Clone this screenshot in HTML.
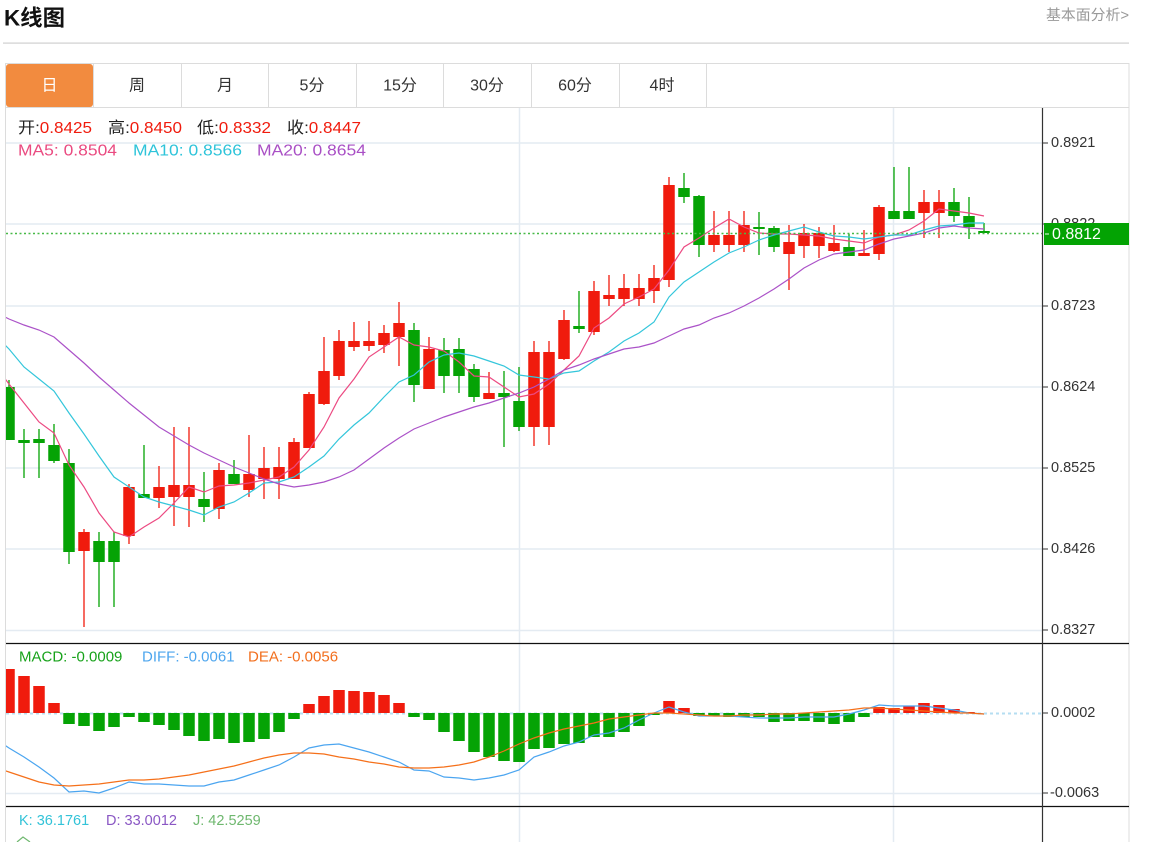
<!DOCTYPE html>
<html><head><meta charset="utf-8"><style>
html,body{margin:0;padding:0;background:#fff;width:1160px;height:842px;overflow:hidden}
svg{display:block}
text{font-family:"Liberation Sans","Noto Sans CJK SC",sans-serif}
</style></head><body>
<svg width="1160" height="842" viewBox="0 0 1160 842" xmlns="http://www.w3.org/2000/svg">
<defs>
<clipPath id="cm"><rect x="6" y="108" width="1036" height="535"/></clipPath>
<clipPath id="cd"><rect x="6" y="644" width="1036" height="162"/></clipPath>
</defs>
<!-- header -->
<text x="4" y="18" dominant-baseline="central" font-size="22" font-weight="bold" fill="#111" textLength="61" lengthAdjust="spacingAndGlyphs">K线图</text>
<text x="1046" y="16" dominant-baseline="central" font-size="14.5" fill="#999" textLength="83" lengthAdjust="spacingAndGlyphs">基本面分析&gt;</text>
<rect x="3" y="42.5" width="1126" height="1.2" fill="#cfcfcf"/>
<!-- outer box -->
<rect x="5.5" y="63.5" width="1123.5" height="800" fill="none" stroke="#dcdcdc" stroke-width="1"/>
<!-- tabs -->
<rect x="6" y="64" width="87" height="43" rx="3" fill="#f28b3f"/>
<g stroke="#dcdcdc" stroke-width="1">
<line x1="93.5" y1="64" x2="93.5" y2="107"/><line x1="181.5" y1="64" x2="181.5" y2="107"/>
<line x1="268.5" y1="64" x2="268.5" y2="107"/><line x1="356.5" y1="64" x2="356.5" y2="107"/>
<line x1="443.5" y1="64" x2="443.5" y2="107"/><line x1="531.5" y1="64" x2="531.5" y2="107"/>
<line x1="619.5" y1="64" x2="619.5" y2="107"/><line x1="706.5" y1="64" x2="706.5" y2="107"/>
<line x1="6" y1="107.5" x2="1129" y2="107.5"/>
</g>
<g font-size="16" dominant-baseline="central" text-anchor="middle" fill="#333">
<text x="49.5" y="86" fill="#fff">日</text>
<text x="137" y="86">周</text>
<text x="225" y="86">月</text>
<text x="312" y="86">5分</text>
<text x="400" y="86">15分</text>
<text x="487" y="86">30分</text>
<text x="575" y="86">60分</text>
<text x="662" y="86">4时</text>
</g>
<!-- grid -->
<g stroke="#e4ebf2" stroke-width="1.5">
<line x1="6" y1="143" x2="1042" y2="143"/><line x1="6" y1="224" x2="1042" y2="224"/>
<line x1="6" y1="306" x2="1042" y2="306"/><line x1="6" y1="387" x2="1042" y2="387"/>
<line x1="6" y1="468" x2="1042" y2="468"/><line x1="6" y1="549" x2="1042" y2="549"/>
<line x1="6" y1="630.5" x2="1042" y2="630.5"/><line x1="6" y1="793.5" x2="1042" y2="793.5"/>
<line x1="519.5" y1="108" x2="519.5" y2="842"/><line x1="893.5" y1="108" x2="893.5" y2="842"/>
</g>
<!-- info rows -->
<g font-size="16" dominant-baseline="central">
<text x="18" y="128" textLength="74" lengthAdjust="spacingAndGlyphs"><tspan fill="#222">开:</tspan><tspan fill="#f01b0d">0.8425</tspan></text>
<text x="108" y="128" textLength="74" lengthAdjust="spacingAndGlyphs"><tspan fill="#222">高:</tspan><tspan fill="#f01b0d">0.8450</tspan></text>
<text x="197" y="128" textLength="74" lengthAdjust="spacingAndGlyphs"><tspan fill="#222">低:</tspan><tspan fill="#f01b0d">0.8332</tspan></text>
<text x="287" y="128" textLength="74" lengthAdjust="spacingAndGlyphs"><tspan fill="#222">收:</tspan><tspan fill="#f01b0d">0.8447</tspan></text>
<text x="18" y="151" fill="#ea4a80" textLength="99" lengthAdjust="spacingAndGlyphs">MA5: 0.8504</text>
<text x="133" y="151" fill="#2ec4da" textLength="109" lengthAdjust="spacingAndGlyphs">MA10: 0.8566</text>
<text x="257" y="151" fill="#a94fc5" textLength="109" lengthAdjust="spacingAndGlyphs">MA20: 0.8654</text>
</g>
<g font-size="15" dominant-baseline="central">
<text x="19" y="657" fill="#17a21a">MACD: -0.0009</text>
<text x="142" y="657" fill="#4ea6ee">DIFF: -0.0061</text>
<text x="248" y="657" fill="#f26f1e">DEA: -0.0056</text>
<text x="19" y="821" fill="#33c3d8" font-size="14.5">K: 36.1761</text>
<text x="106" y="821" fill="#8a57c4" font-size="14.5">D: 33.0012</text>
<text x="193" y="821" fill="#6fb86f" font-size="14.5">J: 42.5259</text>
</g>
<!-- candles -->
<g clip-path="url(#cm)">
<path fill="none" stroke="#05a305" stroke-width="1.3" d="M9 380V440M24 429V478M39 429V478M54 424V463M69 449V564M99 532V607M114 532V607M144 445V498M204 472V522M234 460V484M414 323V402M444 338V393M459 338V393M474 364V402M504 371V447M519 367V431M579 291V333M684 173V203M699 195V257M759 212V255M774 226V252M849 234V256M894 167V219M909 167V219M954 188V222M969 197V239M984 223V233"/>
<path fill="#05a305" d="M3.25 387h11.5v53h-11.5zM18.25 440h11.5v3h-11.5zM33.25 439h11.5v4h-11.5zM48.25 445h11.5v16h-11.5zM63.25 463h11.5v89h-11.5zM93.25 541h11.5v21h-11.5zM108.25 541h11.5v21h-11.5zM138.25 494h11.5v4h-11.5zM198.25 499h11.5v8h-11.5zM228.25 474h11.5v10h-11.5zM408.25 330h11.5v55h-11.5zM438.25 350h11.5v26h-11.5zM453.25 349h11.5v27h-11.5zM468.25 369h11.5v28h-11.5zM498.25 393h11.5v4h-11.5zM513.25 401h11.5v26h-11.5zM573.25 326h11.5v3h-11.5zM678.25 188h11.5v9h-11.5zM693.25 196h11.5v49h-11.5zM753.25 227h11.5v2h-11.5zM768.25 228h11.5v19h-11.5zM843.25 247h11.5v9h-11.5zM888.25 211h11.5v8h-11.5zM903.25 211h11.5v8h-11.5zM948.25 202h11.5v14h-11.5zM963.25 216h11.5v11h-11.5zM978.25 231h11.5v2h-11.5z"/>
<path fill="none" stroke="#f01b0d" stroke-width="1.3" d="M84 529V627M129 484V544M159 466V508M174 427V526M189 427V527M219 463V519M249 435V497M264 447V499M279 447V499M294 438V479M309 392V448M324 337V405M339 330V380M354 322V351M369 321V351M384 325V353M399 302V366M429 337V389M489 372V399M534 341V446M549 341V445M564 310V360M594 281V335M609 275V306M624 274V306M639 274V306M654 265V303M669 177V287M714 211V252M729 211V252M744 211V252M789 225V290M804 224V258M819 227V258M834 225V252M864 230V256M879 205V260M924 190V238M939 190V238"/>
<path fill="#f01b0d" d="M78.25 532h11.5v19h-11.5zM123.25 487h11.5v49h-11.5zM153.25 487h11.5v11h-11.5zM168.25 485h11.5v12h-11.5zM183.25 485h11.5v12h-11.5zM213.25 470h11.5v39h-11.5zM243.25 474h11.5v16h-11.5zM258.25 468h11.5v11h-11.5zM273.25 467h11.5v12h-11.5zM288.25 442h11.5v37h-11.5zM303.25 394h11.5v54h-11.5zM318.25 371h11.5v33h-11.5zM333.25 341h11.5v35h-11.5zM348.25 341h11.5v6h-11.5zM363.25 341h11.5v5h-11.5zM378.25 333h11.5v12h-11.5zM393.25 323h11.5v14h-11.5zM423.25 349h11.5v40h-11.5zM483.25 393h11.5v6h-11.5zM528.25 352h11.5v75h-11.5zM543.25 352h11.5v75h-11.5zM558.25 320h11.5v39h-11.5zM588.25 291h11.5v41h-11.5zM603.25 295h11.5v4h-11.5zM618.25 288h11.5v11h-11.5zM633.25 288h11.5v11h-11.5zM648.25 278h11.5v13h-11.5zM663.25 185h11.5v95h-11.5zM708.25 235h11.5v10h-11.5zM723.25 235h11.5v10h-11.5zM738.25 225h11.5v20h-11.5zM783.25 242h11.5v12h-11.5zM798.25 233h11.5v13h-11.5zM813.25 233h11.5v13h-11.5zM828.25 243h11.5v8h-11.5zM858.25 253h11.5v3h-11.5zM873.25 207h11.5v47h-11.5zM918.25 202h11.5v11h-11.5zM933.25 202h11.5v11h-11.5z"/>
<polyline fill="none" stroke="#ec4a82" stroke-width="1.2" points="3,376 9,384 24,403 39,422 54,433 69,465 84,487 99,513 114,532 129,537 144,527 159,518 174,503 189,487 204,492 219,486 234,485 249,483 264,480 279,477 294,467 309,450 324,427 339,398 354,379 369,357 384,347 399,337 414,345 429,347 444,351 459,362 474,376 489,377 504,387 519,397 534,394 549,384 564,370 579,356 594,328 609,318 624,304 639,297 654,289 669,270 684,247 699,238 714,228 729,219 744,227 759,233 774,234 789,234 804,235 819,236 834,239 849,241 864,243 879,237 894,235 909,230 924,221 939,209 954,211 969,213 984,216"/>
<polyline fill="none" stroke="#34c6db" stroke-width="1.2" points="3,343 9,349 24,367 39,379 54,391 69,413 84,434 99,456 114,477 129,487 144,497 159,502 174,506 189,510 204,515 219,507 234,502 249,493 264,483 279,482 294,477 309,467 324,456 339,439 354,425 369,413 384,397 399,382 414,375 429,362 444,355 459,353 474,356 489,361 504,366 519,375 534,377 549,379 564,373 579,371 594,361 609,352 624,341 639,333 654,322 669,297 684,282 699,272 714,262 729,253 744,247 759,240 774,235 789,231 804,227 819,232 834,236 849,237 864,239 879,237 894,235 909,235 924,230 939,226 954,225 969,223 984,223"/>
<polyline fill="none" stroke="#ab52c8" stroke-width="1.2" points="3,316 9,319 24,325 39,330 54,337 69,350 84,363 99,377 114,390 129,403 144,415 159,427 174,436 189,445 204,453 219,460 234,467 249,473 264,479 279,484 294,487 309,485 324,482 339,477 354,470 369,459 384,448 399,438 414,429 429,423 444,417 459,412 474,407 489,403 504,398 519,393 534,387 549,379 564,370 579,365 594,359 609,354 624,349 639,347 654,343 669,336 684,329 699,325 714,318 729,313 744,306 759,298 774,289 789,279 804,268 819,260 834,254 849,252 864,250 879,244 894,239 909,236 924,233 939,228 954,226 969,228 984,229"/>
<line x1="6" y1="233.5" x2="1042" y2="233.5" stroke="#47b947" stroke-width="1.5" stroke-dasharray="2,2.5"/>
</g>
<!-- MACD -->
<g clip-path="url(#cd)">
<line x1="6" y1="713.5" x2="1042" y2="713.5" stroke="#b5def2" stroke-width="2" stroke-dasharray="3,3"/>
<path fill="#f01b0d" d="M3.25 669h11.5v44h-11.5zM18.25 676h11.5v37h-11.5zM33.25 686h11.5v27h-11.5zM48.25 703h11.5v10h-11.5zM303.25 704h11.5v9h-11.5zM318.25 696h11.5v17h-11.5zM333.25 690h11.5v23h-11.5zM348.25 691h11.5v22h-11.5zM363.25 692h11.5v21h-11.5zM378.25 695h11.5v18h-11.5zM393.25 703h11.5v10h-11.5zM663.25 701h11.5v12h-11.5zM678.25 708h11.5v5h-11.5zM873.25 707h11.5v6h-11.5zM888.25 708h11.5v5h-11.5zM903.25 706h11.5v7h-11.5zM918.25 703h11.5v10h-11.5zM933.25 705h11.5v8h-11.5zM948.25 709h11.5v4h-11.5zM963.25 712h11.5v1h-11.5z"/>
<path fill="#05a305" d="M63.25 713h11.5v11h-11.5zM78.25 713h11.5v13h-11.5zM93.25 713h11.5v18h-11.5zM108.25 713h11.5v14h-11.5zM123.25 713h11.5v4h-11.5zM138.25 713h11.5v9h-11.5zM153.25 713h11.5v12h-11.5zM168.25 713h11.5v17h-11.5zM183.25 713h11.5v23h-11.5zM198.25 713h11.5v28h-11.5zM213.25 713h11.5v26h-11.5zM228.25 713h11.5v30h-11.5zM243.25 713h11.5v29h-11.5zM258.25 713h11.5v26h-11.5zM273.25 713h11.5v19h-11.5zM288.25 713h11.5v6h-11.5zM408.25 713h11.5v4h-11.5zM423.25 713h11.5v7h-11.5zM438.25 713h11.5v19h-11.5zM453.25 713h11.5v28h-11.5zM468.25 713h11.5v39h-11.5zM483.25 713h11.5v44h-11.5zM498.25 713h11.5v48h-11.5zM513.25 713h11.5v49h-11.5zM528.25 713h11.5v36h-11.5zM543.25 713h11.5v35h-11.5zM558.25 713h11.5v31h-11.5zM573.25 713h11.5v30h-11.5zM588.25 713h11.5v24h-11.5zM603.25 713h11.5v24h-11.5zM618.25 713h11.5v19h-11.5zM633.25 713h11.5v13h-11.5zM648.25 713h11.5v2h-11.5zM693.25 713h11.5v3h-11.5zM708.25 713h11.5v3h-11.5zM723.25 713h11.5v4h-11.5zM738.25 713h11.5v4h-11.5zM753.25 713h11.5v4h-11.5zM768.25 713h11.5v9h-11.5zM783.25 713h11.5v8h-11.5zM798.25 713h11.5v8h-11.5zM813.25 713h11.5v9h-11.5zM828.25 713h11.5v11h-11.5zM843.25 713h11.5v9h-11.5zM858.25 713h11.5v4h-11.5z"/>
<polyline fill="none" stroke="#4ba5f0" stroke-width="1.2" points="3,744 9,748 24,757 39,767 54,778 69,792 84,791 99,793 114,788 129,782 144,784 159,784 174,785 189,786 204,786 219,782 234,780 249,775 264,770 279,765 294,757 309,748 324,745 339,744 354,748 369,752 384,757 399,762 414,770 429,771 444,777 459,778 474,780 489,778 504,775 519,770 534,757 549,752 564,746 579,742 594,735 609,733 624,728 639,720 654,713 669,707 684,712 699,716 714,716 729,716 744,717 759,718 774,718 789,718 804,717 819,717 834,717 849,714 864,710 879,705 894,706 909,706 924,706 939,708 954,710 969,713 984,714"/>
<polyline fill="none" stroke="#f5701a" stroke-width="1.2" points="3,770 9,772 24,777 39,782 54,785 69,786 84,785 99,784 114,782 129,780 144,780 159,779 174,777 189,775 204,772 219,769 234,766 249,762 264,758 279,755 294,753 309,753 324,754 339,757 354,759 369,762 384,764 399,767 414,768 429,768 444,767 459,765 474,762 489,757 504,751 519,744 534,738 549,733 564,729 579,726 594,723 609,719 624,717 639,715 654,713 669,713 684,714 699,715 714,716 729,716 744,715 759,715 774,714 789,714 804,713 819,712 834,711 849,710 864,708 879,708 894,709 909,710 924,711 939,712 954,713 969,713 984,714"/>
</g>
<!-- KDJ hint -->
<polyline fill="none" stroke="#6fb86f" stroke-width="1.2" points="17,842 23,837 30,842"/>
<!-- separators and axis -->
<line x1="6" y1="643.5" x2="1129" y2="643.5" stroke="#111" stroke-width="1.2"/>
<line x1="6" y1="806.5" x2="1129" y2="806.5" stroke="#111" stroke-width="1.2"/>
<line x1="1042.5" y1="108" x2="1042.5" y2="842" stroke="#333" stroke-width="1.2"/>
<g stroke="#333" stroke-width="1">
<line x1="1043" y1="143" x2="1048" y2="143"/><line x1="1043" y1="224" x2="1048" y2="224"/>
<line x1="1043" y1="306" x2="1048" y2="306"/><line x1="1043" y1="387" x2="1048" y2="387"/>
<line x1="1043" y1="468" x2="1048" y2="468"/><line x1="1043" y1="549" x2="1048" y2="549"/>
<line x1="1043" y1="630" x2="1048" y2="630"/><line x1="1043" y1="713" x2="1048" y2="713"/>
<line x1="1043" y1="793" x2="1048" y2="793"/>
</g>
<g font-size="14.5" fill="#333" dominant-baseline="central">
<text x="1051" y="143">0.8921</text>
<text x="1051" y="224">0.8822</text>
<text x="1051" y="306">0.8723</text>
<text x="1051" y="387">0.8624</text>
<text x="1051" y="468">0.8525</text>
<text x="1051" y="549">0.8426</text>
<text x="1051" y="630">0.8327</text>
<text x="1051" y="713">0.0002</text>
<text x="1050" y="793">-0.0063</text>
</g>
<rect x="1044" y="223" width="85" height="22" fill="#03a303"/>
<line x1="1045" y1="234" x2="1049" y2="234" stroke="#e8ffe8" stroke-width="1"/>
<text x="1052" y="234.5" font-size="16" fill="#fff" dominant-baseline="central">0.8812</text>
</svg>
</body></html>
